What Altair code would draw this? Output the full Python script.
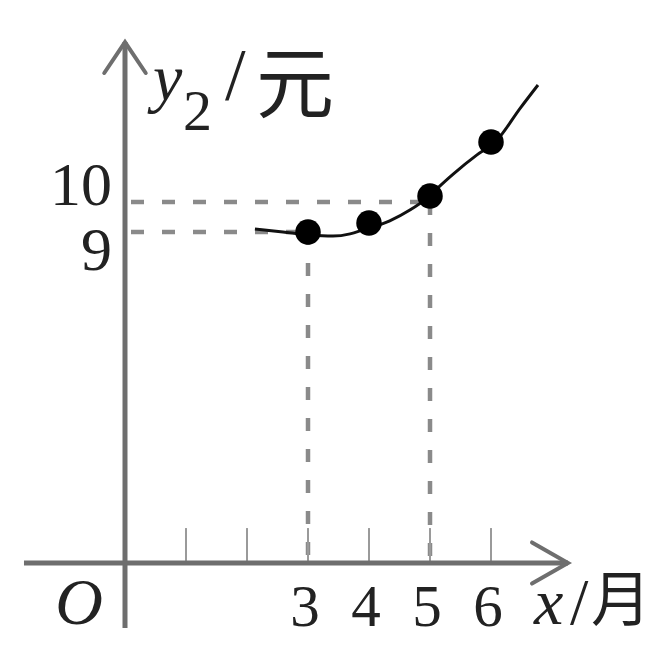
import altair as alt
import pandas as pd

# ---- data ----
months = [3, 4, 5, 6]
prices = [9.0, 9.3, 10.2, 12.0]

curve_x = [2.13, 2.59, 3.02, 3.41, 3.69, 3.90, 4.34, 4.67, 4.95, 5.16, 5.38, 5.77, 6.07, 6.48, 6.77]
curve_y = [9.10, 9.00, 8.92, 8.89, 8.95, 9.07, 9.37, 9.73, 10.13, 10.53, 10.93, 11.57, 12.0, 13.13, 13.9]

x_ticks = [1, 2, 3, 4, 5, 6]
x_tick_labels = ["3", "4", "5", "6"]
x_label_pos = [3, 4, 5, 6]

ref_y = [9, 10]          # dashed guide levels
ref_x = [3, 5]           # dashed guide months

x_axis_ext = [-1.656, 7.262]
y_axis_ext = [-1.77, 15.33]

# ---- scales ----
xs = alt.Scale(domain=[-1.918, 8.672], range=[0, 646], nice=False, zero=False)
ys = alt.Scale(domain=[0, 9, 10], range=[555, 224, 194], nice=False, zero=False)

GRAY_AX = "#6e6e6e"
GRAY_DASH = "#8a8a8a"
TXT = "#222222"
SERIF = "Liberation Serif"
CJK = "Noto Sans CJK SC"

def X(f):
    return alt.X(f, type="quantitative", scale=xs, axis=None)

def Y(f):
    return alt.Y(f, type="quantitative", scale=ys, axis=None)

# dashed guides
h_df = pd.DataFrame({"x": [0, 0], "x2": [ref_x[0], ref_x[1]], "y": ref_y})
v_df = pd.DataFrame({"x": ref_x, "y": ref_y, "y2": [0, 0]})

h_dash = alt.Chart(h_df).mark_rule(color=GRAY_DASH, strokeWidth=4.5, strokeDash=[13, 18], strokeDashOffset=-6).encode(
    x=X("x"), x2="x2", y=Y("y"))
v_dash = alt.Chart(v_df).mark_rule(color=GRAY_DASH, strokeWidth=4.5, strokeDash=[13, 18]).encode(
    x=X("x"), y=Y("y"), y2="y2")

# ticks
t_df = pd.DataFrame({"x": x_ticks, "y": [0] * len(x_ticks), "y2": [0.95] * len(x_ticks)})
ticks = alt.Chart(t_df).mark_rule(color="#9a9a9a", strokeWidth=2).encode(x=X("x"), y=Y("y"), y2="y2")

# axes
xa_df = pd.DataFrame({"x": [x_axis_ext[0]], "x2": [x_axis_ext[1]], "y": [0]})
ya_df = pd.DataFrame({"x": [0], "y": [y_axis_ext[0]], "y2": [y_axis_ext[1]]})
x_axis = alt.Chart(xa_df).mark_rule(color=GRAY_AX, strokeWidth=5).encode(x=X("x"), x2="x2", y=Y("y"))
y_axis = alt.Chart(ya_df).mark_rule(color=GRAY_AX, strokeWidth=5).encode(x=X("x"), y=Y("y"), y2="y2")

arr_df = pd.DataFrame({
    "x": [6.672, 7.262, 6.672, -0.34, 0, 0.34],
    "y": [0.56, 0, -0.56, 14.3, 15.33, 14.3],
    "g": ["a", "a", "a", "b", "b", "b"],
    "o": [0, 1, 2, 0, 1, 2],
})
arrows = alt.Chart(arr_df).mark_line(color=GRAY_AX, strokeWidth=4, strokeJoin="miter", strokeCap="round").encode(
    x=X("x"), y=Y("y"), detail="g", order="o")

# curve and dots
c_df = pd.DataFrame({"x": curve_x, "y": curve_y})
curve = alt.Chart(c_df).mark_line(color="#111111", strokeWidth=3, interpolate="monotone").encode(x=X("x"), y=Y("y"))

d_df = pd.DataFrame({"x": months, "y": prices})
dots = alt.Chart(d_df).mark_circle(color="#000000", size=650, opacity=1).encode(x=X("x"), y=Y("y"))

# texts
xl_df = pd.DataFrame({"x": x_label_pos, "t": x_tick_labels, "y": [0] * 4})
x_labels = alt.Chart(xl_df).mark_text(font=SERIF, fontSize=59, color=TXT, align="center", baseline="alphabetic", dx=-3, dy=63).encode(
    x=X("x"), y=Y("y"), text="t")

def txt(label, xv, yv, **kw):
    df = pd.DataFrame({"x": [xv], "y": [yv], "t": [label]})
    return alt.Chart(df).mark_text(color=TXT, baseline="alphabetic", **kw).encode(x=X("x"), y=Y("y"), text="t")

o_lbl = txt("O", 0, 0, font=SERIF, fontSize=66, fontStyle="italic", align="center", dx=-46, dy=61)
lbl10 = txt("10", 0, 10, font=SERIF, fontSize=62, align="right", dx=-13, dy=3)
lbl9 = txt("9", 0, 9, font=SERIF, fontSize=62, align="right", dx=-13, dy=38)

yt = y_axis_ext[1]
y_y = txt("y", 0, yt, font=SERIF, fontSize=66, fontStyle="italic", align="left", dx=28, dy=58)
y_2 = txt("2", 0, yt, font=SERIF, fontSize=58, align="left", dx=58, dy=88)
y_sl = txt("/", 0, yt, font=SERIF, fontSize=74, align="left", dx=100, dy=58)
y_yuan = txt("元", 0, yt, font=CJK, fontSize=78, align="left", dx=131, dy=70)

xt = x_axis_ext[1]
x_x = txt("x", xt, 0, font=SERIF, fontSize=66, fontStyle="italic", align="left", dx=-34, dy=61)
x_sl = txt("/", xt, 0, font=SERIF, fontSize=66, align="left", dx=2, dy=61)
x_yue = txt("月", xt, 0, font=CJK, fontSize=60, align="left", dx=23, dy=58)

chart = alt.layer(
    h_dash, v_dash, ticks, x_axis, y_axis, arrows, curve, dots,
    x_labels, o_lbl, lbl10, lbl9, y_y, y_2, y_sl, y_yuan, x_x, x_sl, x_yue,
).properties(
    width=646, height=631,
    autosize=alt.AutoSizeParams(type="none"),
    padding=0,
    background="white",
).configure_view(stroke=None)

chart.save("out.html", embed_options={"renderer": "svg", "actions": False})
